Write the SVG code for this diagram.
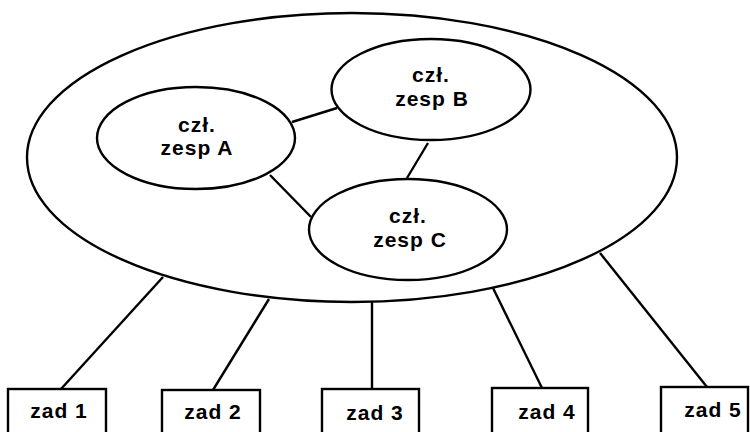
<svg xmlns="http://www.w3.org/2000/svg" width="750" height="432" viewBox="0 0 750 432">
<style>
.sh{fill:#fff;stroke:#000;stroke-width:2.4}
.ln{stroke:#000;stroke-width:2.4;fill:none}
text{font-family:"Liberation Sans",Arial,sans-serif;font-weight:bold;font-size:21px;letter-spacing:1px;fill:#000;text-anchor:middle}
</style>
<rect width="750" height="432" fill="#fff"/>
<g id="team">
<ellipse class="sh" cx="352" cy="157.5" rx="325" ry="144.5"/>
</g>
<g id="connectors">
<line class="ln" x1="292" y1="122" x2="337" y2="108"/>
<line class="ln" x1="428" y1="143" x2="407" y2="178"/>
<line class="ln" x1="270" y1="175" x2="311" y2="217"/>
<line class="ln" x1="163" y1="277" x2="61" y2="389"/>
<line class="ln" x1="269" y1="299" x2="213" y2="390"/>
<line class="ln" x1="372" y1="302" x2="372" y2="389"/>
<line class="ln" x1="493" y1="288" x2="542" y2="388"/>
<line class="ln" x1="600" y1="253" x2="707" y2="387"/>
</g>
<g id="memberA">
<ellipse class="sh" cx="196" cy="138" rx="99" ry="51"/>
<text x="197" y="132">czł.</text>
<text x="197" y="155">zesp A</text>
</g>
<g id="memberB">
<ellipse class="sh" cx="431" cy="89.5" rx="99.5" ry="50.5"/>
<text x="431" y="82">czł.</text>
<text x="432" y="106">zesp B</text>
</g>
<g id="memberC">
<ellipse class="sh" cx="408" cy="229.5" rx="99" ry="50.5"/>
<text x="408" y="223">czł.</text>
<text x="410" y="247">zesp C</text>
</g>
<g id="zad1">
<rect class="sh" x="8" y="389" width="98" height="60"/>
<text x="59" y="418">zad 1</text>
</g>
<g id="zad2">
<rect class="sh" x="162" y="390" width="98" height="60"/>
<text x="213" y="419">zad 2</text>
</g>
<g id="zad3">
<rect class="sh" x="322" y="389" width="97" height="60"/>
<text x="375" y="420">zad 3</text>
</g>
<g id="zad4">
<rect class="sh" x="492" y="388" width="96" height="60"/>
<text x="547" y="419">zad 4</text>
</g>
<g id="zad5">
<rect class="sh" x="661" y="387" width="87" height="60"/>
<text x="713" y="417">zad 5</text>
</g>
</svg>
